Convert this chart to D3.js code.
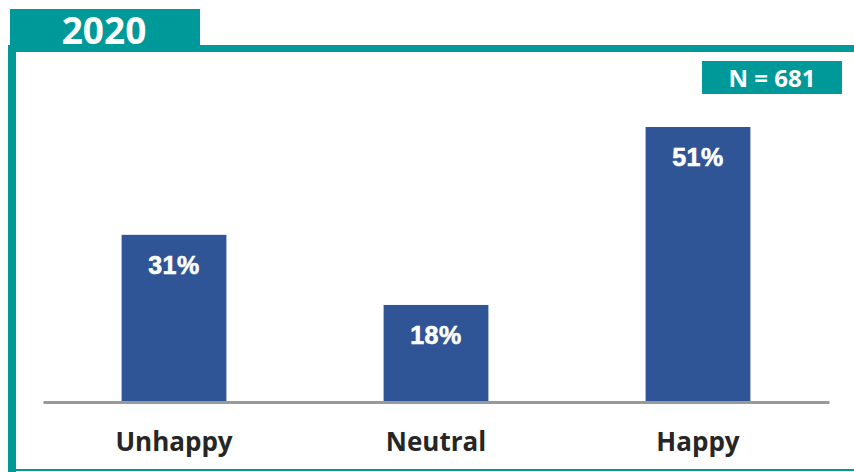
<!DOCTYPE html>
<html>
<head>
<meta charset="utf-8">
<script src="https://cdn.jsdelivr.net/npm/d3@7"></script>
<style>
  html, body { margin: 0; padding: 0; background: #ffffff; }
  svg { display: block; }
</style>
</head>
<body>
<svg id="chart" width="854" height="472"></svg>
<script>
// Survey results, 2020
const categories = ["Unhappy", "Neutral", "Happy"];
const values = [31, 18, 51];
const valueLabels = ["31%", "18%", "51%"];
const yearLabel = "2020";
const sampleLabel = "N = 681";

const teal = "#009999";
const barColor = "#2F5597";

const svg = d3.select("#chart");

// Frame: year tab, top rule, left rule, bottom rule
svg.append("rect").attr("x", 10).attr("y", 9).attr("width", 190).attr("height", 40).attr("fill", teal);
svg.append("rect").attr("x", 10).attr("y", 45).attr("width", 844).attr("height", 7).attr("fill", teal);
svg.append("rect").attr("x", 8).attr("y", 45).attr("width", 8).attr("height", 427).attr("fill", teal);
svg.append("rect").attr("x", 8).attr("y", 469).attr("width", 846).attr("height", 2).attr("fill", teal);

svg.append("text")
  .attr("x", 104).attr("y", 44)
  .attr("text-anchor", "middle")
  .attr("font-family", "'Open Sans', sans-serif")
  .attr("font-weight", 700)
  .attr("font-size", 37)
  .attr("fill", "#ffffff")
  .text(yearLabel);

// Sample size badge
svg.append("rect").attr("x", 702).attr("y", 61).attr("width", 140).attr("height", 33).attr("fill", teal);
svg.append("text")
  .attr("x", 772).attr("y", 86.5)
  .attr("text-anchor", "middle")
  .attr("font-family", "'Open Sans', sans-serif")
  .attr("font-weight", 700)
  .attr("font-size", 24)
  .attr("fill", "#ffffff")
  .text(sampleLabel);

// Scales
const x = d3.scaleBand()
  .domain(categories)
  .range([43, 829])
  .paddingInner(0.6)
  .paddingOuter(0.3);

const y = d3.scaleLinear()
  .domain([0, 51])
  .range([402, 127]);

// Bars
svg.append("g").selectAll("rect")
  .data(categories)
  .join("rect")
  .attr("x", d => x(d))
  .attr("y", (d, i) => y(values[i]))
  .attr("width", x.bandwidth())
  .attr("height", (d, i) => y(0) - y(values[i]))
  .attr("fill", barColor);

// Value labels inside bars
svg.append("g").selectAll("text")
  .data(categories)
  .join("text")
  .attr("x", d => x(d) + x.bandwidth() / 2)
  .attr("y", (d, i) => y(values[i]) + 39)
  .attr("text-anchor", "middle")
  .attr("font-family", "'Liberation Sans', Arial, sans-serif")
  .attr("font-weight", 700)
  .attr("font-size", 25)
  .attr("letter-spacing", 0.5)
  .attr("fill", "#ffffff")
  .attr("stroke", "#ffffff")
  .attr("stroke-width", 0.6)
  .text((d, i) => valueLabels[i]);

// Baseline axis
const axis = svg.append("g")
  .attr("transform", `translate(0,${y(0)})`)
  .call(d3.axisBottom(x).tickSize(0).tickPadding(0));
axis.select(".domain")
  .attr("stroke", "#999999")
  .attr("stroke-width", 3);
axis.selectAll(".tick text")
  .attr("y", 49)
  .attr("dy", 0)
  .attr("font-family", "'Open Sans', sans-serif")
  .attr("font-weight", 700)
  .attr("font-size", 26)
  .attr("fill", "#262626");
</script>
</body>
</html>
